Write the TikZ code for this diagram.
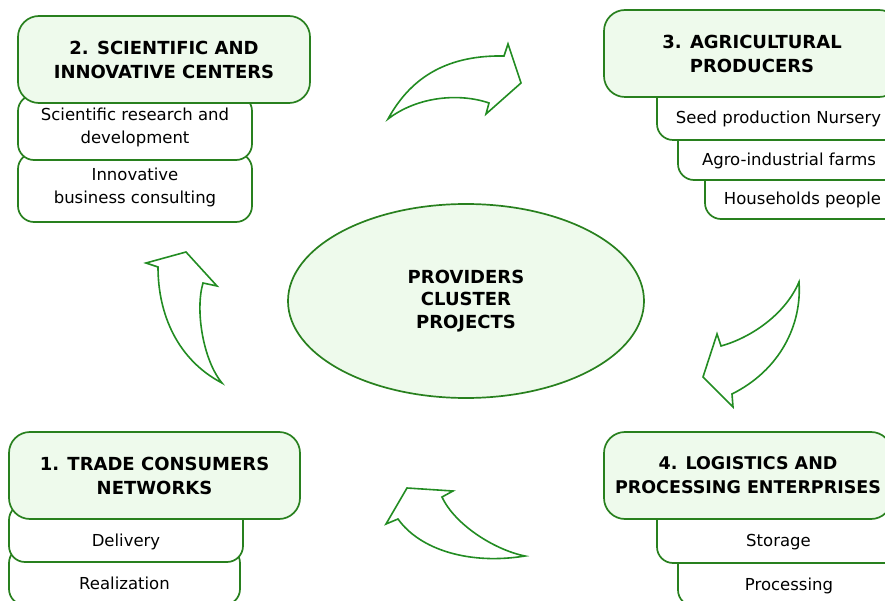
\documentclass[tikz,border=0pt]{standalone}
\usepackage{fontspec}
\setmainfont{DejaVu Sans}
\usetikzlibrary{shapes.geometric}
\definecolor{leaf}{RGB}{40,128,30}
\definecolor{sprout}{RGB}{34,140,34}
\definecolor{mint}{RGB}{238,250,236}

\begin{document}
\begin{tikzpicture}[x=1pt, y=-1pt, line width=1.7pt,
  head/.style={draw=leaf, fill=mint, rounded corners=21pt, align=center, minimum height=87pt, font=\fontsize{18}{24}\selectfont\bfseries},
  sub/.style={draw=leaf, fill=white, rounded corners=16pt, align=center, font=\fontsize{16.5}{23}\selectfont},
  lower/.style={sub, text height=30pt, text depth=4pt},
  core/.style={ellipse, draw=leaf, fill=mint, minimum width=356pt, minimum height=194pt, align=center, font=\fontsize{18}{22.5}\selectfont\bfseries},
  bendarrow/.style={draw=sprout, fill=white, line width=1.6pt, line join=miter}]
  \useasboundingbox (0,0) rectangle (885,601);

  \node[core] (core) at (466,301) {PROVIDERS\\CLUSTER\\PROJECTS};

  \node[sub, minimum width=234pt, minimum height=69pt] (consult) at (135,187.5) {Innovative\\business consulting};
  \node[sub, minimum width=234pt, minimum height=65pt] (research) at (135,127.5) {Scientific research and\\development};
  \node[head, minimum width=292pt] (science) at (164,59.5) {2. SCIENTIFIC AND\\INNOVATIVE CENTERS};

  \node[lower, minimum width=195pt, minimum height=54pt] (house) at (802.5,192) {Households people};
  \node[lower, minimum width=222pt, minimum height=55pt] (agro) at (789,152.5) {Agro-industrial farms};
  \node[lower, minimum width=243pt, minimum height=58pt] (seed) at (778.5,111) {Seed production Nursery};
  \node[head, minimum width=296pt] (farm) at (752,53.5) {3. AGRICULTURAL\\PRODUCERS};

  \node[lower, minimum width=222pt, minimum height=58pt] (process) at (789,577) {Processing};
  \node[lower, minimum width=243pt, minimum height=59pt] (storage) at (778.5,533.5) {Storage};
  \node[head, minimum width=288pt, font=\fontsize{17.5}{24}\selectfont\bfseries] (logist) at (748,475.5) {4. LOGISTICS AND\\PROCESSING ENTERPRISES};

  \node[lower, minimum width=231pt, minimum height=58pt] (realize) at (124.5,576) {Realization};
  \node[lower, minimum width=234pt, minimum height=58pt] (deliver) at (126,533) {Delivery};
  \node[head, minimum width=291pt] (trade) at (154.5,475.5) {1. TRADE CONSUMERS\\NETWORKS};

  \draw[bendarrow] (388,119) .. controls (412,75) and (450,55) .. (504,56)
    -- (508,44) -- (521,83) -- (486,114) -- (489,103)
    .. controls (460,93) and (418,96) .. cycle;
  \draw[bendarrow] (799,282) .. controls (802,325) and (780,370) .. (732,394)
    -- (733,407) -- (703,377) -- (717,334) -- (721,346)
    .. controls (750,338) and (785,315) .. cycle;
  \draw[bendarrow] (525,556) .. controls (495,550) and (455,525) .. (442,497)
    -- (453,491) -- (407,488) -- (386,524) -- (398,519)
    .. controls (420,550) and (470,565) .. cycle;
  \draw[bendarrow] (222,383) .. controls (203,360) and (195,310) .. (203,283)
    -- (217,286) -- (186,252) -- (146,263) -- (158,267)
    .. controls (158,315) and (178,360) .. cycle;
\end{tikzpicture}
\end{document}
